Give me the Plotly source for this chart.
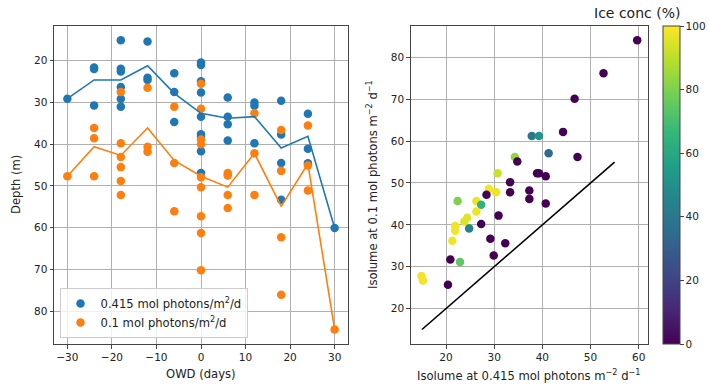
import plotly.graph_objects as go

# ---------------- data ----------------
blue_owd = [-30, -24, -24, -24, -18, -18, -18, -18, -18, -18, -12, -12, -12,
            -6, -6, -6, 0, 0, 0, 0, 0, 0, 0, 0, 0, 6, 6, 6, 6, 12, 12, 12,
            18, 18, 18, 18, 24, 24, 24, 30]
blue_depth = [29.1, 21.6, 22.0, 30.7, 15.1, 21.9, 22.6, 26.3, 29.1, 31.0,
              15.4, 24.1, 24.6, 23.0, 27.5, 34.7, 20.4, 21.0, 24.9, 27.6,
              33.4, 37.6, 38.2, 41.7, 46.9, 28.8, 33.4, 35.2, 39.1, 30.0,
              30.8, 39.8, 29.6, 37.7, 44.5, 53.3, 32.7, 41.1, 44.6, 60.1]

orange_owd = [-30, -24, -24, -24, -18, -18, -18, -18, -18, -18, -12, -12, -12,
              -6, -6, -6, 0, 0, 0, 0, 0, 0, 0, 0, 0, 6, 6, 6, 6, 12, 12, 12,
              18, 18, 18, 18, 24, 24, 24, 30]
orange_depth = [47.7, 36.1, 38.6, 47.7, 27.5, 39.8, 43.1, 45.5, 48.8, 52.2,
                26.5, 40.6, 41.8, 31.0, 44.5, 56.1, 25.5, 31.5, 38.9, 40.0,
                47.9, 50.3, 57.3, 61.3, 70.2, 46.9, 47.5, 52.2, 55.3, 32.6,
                42.2, 52.2, 36.6, 46.4, 62.3, 76.1, 35.5, 45.1, 51.1, 84.4]

line_owd = [-30, -24, -18, -12, -6, 0, 6, 12, 18, 24, 30]
line_blue = [29.1, 24.6, 24.6, 21.2, 27.8, 32.6, 33.8, 33.4, 40.9, 38.1, 60.1]
line_orange = [47.7, 40.6, 42.7, 36.1, 43.9, 47.7, 50.3, 42.2, 54.9, 44.7, 84.4]

iso_0415 = [52.7, 46.7, 44.3, 37.8, 39.3, 41.3, 47.3, 34.3, 34.8, 30.7, 38.9,
            39.3, 40.7, 33.3, 33.3, 37.3, 37.3, 40.7, 28.9, 30.4, 28.4, 26.3,
            22.4, 27.3, 26.3, 24.4, 23.8, 30.9, 27.3, 21.9, 21.9, 24.8, 21.3,
            29.2, 32.3, 29.9, 20.9, 22.9, 14.9, 15.2, 20.4, 59.7]
iso_01 = [76.2, 70.1, 62.2, 61.2, 61.2, 57.1, 56.2, 56.2, 55.1, 52.3, 52.3,
          52.3, 51.6, 50.2, 47.8, 48.2, 46.2, 45.1, 48.6, 47.8, 47.2, 45.7,
          45.7, 44.8, 43.2, 41.7, 40.8, 42.2, 40.2, 39.7, 38.6, 39.1, 36.2,
          36.7, 35.6, 32.7, 31.7, 31.1, 27.8, 26.7, 25.7, 84.1]
ice_conc = [0, 0, 0, 40, 52, 35, 0, 83, 0, 92, 0,
            0, 0, 0, 0, 0, 0, 0, 98, 97, 0, 97,
            80, 65, 97, 96, 95, 0, 0, 98, 98, 45, 98,
            0, 0, 0, 0, 75, 98, 98, 0, 0]

ref_line = [15, 55]

x_ticks_left = [-30, -20, -10, 0, 10, 20, 30]
y_ticks = [20, 30, 40, 50, 60, 70, 80]
x_ticks_right = [20, 30, 40, 50, 60]
cbar_ticks = [0, 20, 40, 60, 80, 100]

BLUE = "#1f77b4"
ORANGE = "#ff7f0e"
FONT = "DejaVu Sans"
TICK_SIZE = 10.5
LABEL_SIZE = 11.6
W, H = 710, 392

fig = go.Figure()

fig.add_trace(go.Scatter(x=blue_owd, y=blue_depth, mode="markers",
                         marker=dict(color=BLUE, size=8.5),
                         name="0.415 mol photons/m<sup>2</sup>/d",
                         xaxis="x", yaxis="y"))
fig.add_trace(go.Scatter(x=orange_owd, y=orange_depth, mode="markers",
                         marker=dict(color=ORANGE, size=8.5),
                         name="0.1 mol photons/m<sup>2</sup>/d",
                         xaxis="x", yaxis="y"))
fig.add_trace(go.Scatter(x=line_owd, y=line_blue, mode="lines",
                         line=dict(color=BLUE, width=1.6), showlegend=False,
                         xaxis="x", yaxis="y"))
fig.add_trace(go.Scatter(x=line_owd, y=line_orange, mode="lines",
                         line=dict(color=ORANGE, width=1.6), showlegend=False,
                         xaxis="x", yaxis="y"))

fig.add_trace(go.Scatter(
    x=iso_0415, y=iso_01, mode="markers", showlegend=False,
    marker=dict(color=ice_conc, colorscale="Viridis", cmin=0, cmax=100, size=8.5,
                colorbar=dict(x=663 / W, xanchor="left", xpad=0,
                              thickness=17, thicknessmode="pixels",
                              len=(344 - 25.7) / H, lenmode="fraction",
                              y=1 - 344 / H, yanchor="bottom", ypad=0,
                              outlinewidth=1, outlinecolor="#444",
                              ticks="outside", ticklen=3.5, tickwidth=0.8,
                              tickcolor="#444", tickvals=cbar_ticks,
                              tickfont=dict(family=FONT, size=TICK_SIZE, color="#222"))),
    xaxis="x2", yaxis="y2"))
fig.add_trace(go.Scatter(x=ref_line, y=ref_line, mode="lines",
                         line=dict(color="black", width=1.6), showlegend=False,
                         xaxis="x2", yaxis="y2"))

ydom = [1 - 344 / H, 1 - 25.7 / H]
axis_common = dict(showline=True, mirror=True, linecolor="#444", linewidth=1,
                   ticks="outside", ticklen=3.5, tickwidth=0.8, tickcolor="#444",
                   showgrid=True, gridcolor="#b0b0b0", gridwidth=0.8,
                   zeroline=False,
                   tickfont=dict(family=FONT, size=TICK_SIZE, color="#222"))

fig.update_layout(
    width=W, height=H,
    margin=dict(l=0, r=0, t=0, b=0),
    paper_bgcolor="white", plot_bgcolor="white",
    font=dict(family=FONT, size=10, color="#222"),
    xaxis=dict(domain=[54 / W, 348 / W], range=[-33, 33],
               tickvals=x_ticks_left, anchor="y", **axis_common),
    yaxis=dict(domain=ydom, range=[87.9, 11.6], tickvals=y_ticks,
               anchor="x", **axis_common),
    xaxis2=dict(domain=[410.7 / W, 648 / W], range=[12.66, 61.94],
                tickvals=x_ticks_right, anchor="y2", **axis_common),
    yaxis2=dict(domain=ydom, range=[11.54, 87.56], tickvals=y_ticks,
                anchor="x2", **axis_common),
    legend=dict(x=59.5 / W, y=1 - 338 / H, xanchor="left", yanchor="bottom",
                bgcolor="rgba(255,255,255,0.8)", bordercolor="#cccccc",
                borderwidth=1, font=dict(family=FONT, size=LABEL_SIZE, color="#222"),
                tracegroupgap=0),
    showlegend=True,
)

ann = dict(xref="paper", yref="paper", showarrow=False,
           font=dict(family=FONT, size=LABEL_SIZE, color="#222"))
fig.add_annotation(text="OWD (days)", x=201 / W, y=1 - 374 / H,
                   xanchor="center", yanchor="middle", **ann)
fig.add_annotation(text="Depth (m)", x=16 / W, y=1 - 185 / H, textangle=-90,
                   xanchor="center", yanchor="middle", **ann)
fig.add_annotation(text="Isolume at 0.415 mol photons m<sup>\u22122</sup> d<sup>\u22121</sup>",
                   x=529 / W, y=1 - 375 / H, xanchor="center", yanchor="middle", **ann)
fig.add_annotation(text="Isolume at 0.1 mol photons m<sup>\u22122</sup> d<sup>\u22121</sup>",
                   x=372 / W, y=1 - 185 / H, textangle=-90,
                   xanchor="center", yanchor="middle", **ann)
fig.add_annotation(text="Ice conc (%)", x=637 / W, y=1 - 13 / H,
                   xanchor="center", yanchor="middle", xref="paper", yref="paper",
                   showarrow=False, font=dict(family=FONT, size=14, color="#222"))

fig.write_html("out.html")
